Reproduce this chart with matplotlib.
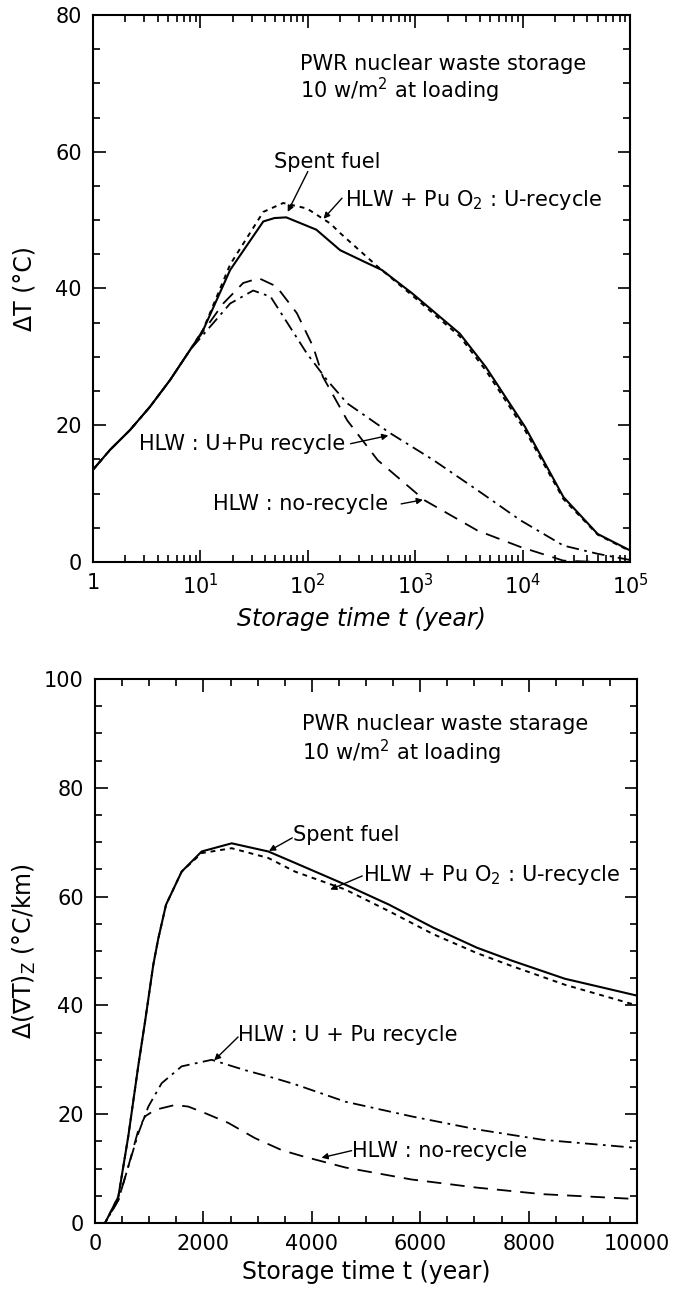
# import required libraries
import numpy as np
import matplotlib.pyplot as plt
from matplotlib.ticker import FixedLocator, NullFormatter, MultipleLocator

plt.rcParams['font.family'] = ['DejaVu Sans']
plt.rcParams['mathtext.default'] = 'regular'

# ---- top panel data : temperature rise vs storage time (log scale) ----
t_spent = [1, 1.44, 2.21, 3.39, 5.21, 8.0, 10.6, 18.9, 38.5, 49, 63, 120, 200, 337, 490, 935, 2600, 4550, 10500, 24000, 50000, 100000]
dT_spent = [13.5, 16.4, 19.3, 22.7, 26.6, 31.0, 33.9, 42.7, 49.8, 50.3, 50.4, 48.6, 45.6, 43.9, 42.7, 39.3, 33.4, 28.5, 19.8, 9.5, 4.1, 1.7]

t_puo2 = [1, 1.44, 2.21, 3.39, 5.21, 8.0, 10.6, 18.9, 38.5, 59, 98, 162, 200, 447, 935, 2600, 4550, 10500, 24000, 50000, 100000]
dT_puo2 = [13.5, 16.4, 19.3, 22.7, 26.6, 31.0, 34.0, 43.5, 51.2, 52.5, 51.7, 49.5, 48.1, 43.2, 39.0, 33.0, 28.0, 19.3, 9.2, 4.0, 1.6]

t_upu = [1, 1.44, 2.21, 3.39, 5.21, 8.0, 18.9, 31, 45, 68, 98, 151, 233, 590, 1480, 3800, 9550, 24000, 50000, 100000]
dT_upu = [13.5, 16.4, 19.3, 22.7, 26.6, 31.0, 37.8, 39.7, 38.8, 34.4, 30.5, 26.6, 23.2, 18.8, 14.9, 10.5, 6.1, 2.4, 1.2, 0.3]

t_norec = [1, 1.44, 2.21, 3.39, 5.21, 8.0, 16.3, 25, 35, 51, 79, 112, 138, 233, 447, 1230, 3800, 9550, 24000, 50000, 100000]
dT_norec = [13.5, 16.4, 19.3, 22.7, 26.6, 31.0, 37.8, 40.8, 41.5, 40.3, 36.4, 31.5, 27.1, 20.7, 14.9, 9.0, 4.6, 2.2, 0.2, 0.0, 0.0]

top_xticks = [1, 10, 100, 1000, 10000, 100000]
top_xlabels = ['1', '$10^1$', '$10^2$', '$10^3$', '$10^4$', '$10^5$']

# ---- bottom panel data : vertical gradient change vs storage time (linear) ----
s_spent = [0, 185, 430, 615, 800, 923, 1076, 1168, 1310, 1599, 1968, 2522, 3198, 3690, 4620, 5430, 6240, 7050, 7700, 8670, 9230, 10000]
g_spent = [0, 0, 4.8, 16, 29, 37, 47.5, 52.3, 58.5, 64.6, 68.3, 69.8, 68.3, 66.2, 62.2, 58.5, 54.3, 50.6, 48.2, 44.9, 43.6, 41.8]

s_puo2 = [0, 185, 430, 615, 800, 923, 1076, 1168, 1310, 1599, 1968, 2522, 3198, 3690, 4620, 5430, 6240, 7050, 7700, 8670, 9230, 10000]
g_puo2 = [0, 0, 4.8, 16, 29, 37, 47.5, 52.3, 58.5, 64.6, 68.0, 68.9, 67.1, 64.6, 61.3, 57.3, 53.1, 49.6, 47.2, 43.8, 42.2, 40.0]

s_upu = [0, 185, 430, 615, 800, 984, 1230, 1599, 2153, 2768, 3321, 3690, 4620, 5840, 7050, 8260, 10000]
g_upu = [0, 0, 4.2, 10.4, 16.5, 21.4, 25.7, 28.8, 30.0, 28.1, 26.6, 25.5, 22.3, 19.6, 17.2, 15.3, 13.8]

s_norec = [0, 185, 430, 615, 800, 923, 1107, 1476, 1722, 2030, 2460, 2952, 3444, 3820, 4620, 5840, 7050, 8260, 10000]
g_norec = [0, 0, 4.2, 10.4, 17.1, 19.6, 20.8, 21.7, 21.4, 20.2, 18.4, 15.6, 13.4, 12.3, 10.2, 8.0, 6.5, 5.3, 4.4]

# line styles for the four cases
sty_spent = '-'
sty_puo2 = (0, (2.5, 2.5))
sty_upu = (0, (7, 3, 1.5, 3))
sty_norec = (0, (8, 5))

fig = plt.figure(figsize=(6.81, 12.89), dpi=100)
ax1 = fig.add_axes([0.1366, 0.564, 0.7885, 0.4244])
ax2 = fig.add_axes([0.1395, 0.0512, 0.7959, 0.4220])

arrow = dict(arrowstyle='-|>', lw=1.0, color='k', mutation_scale=9, shrinkA=0, shrinkB=0)
fs_txt = 15

# ---------------- top plot ----------------
ax1.plot(t_spent, dT_spent, color='k', lw=1.5, linestyle=sty_spent)
ax1.plot(t_puo2, dT_puo2, color='k', lw=1.4, linestyle=sty_puo2)
ax1.plot(t_upu, dT_upu, color='k', lw=1.3, linestyle=sty_upu)
ax1.plot(t_norec, dT_norec, color='k', lw=1.3, linestyle=sty_norec)

ax1.set_xscale('log')
ax1.set_xlim(1, 1e5)
ax1.set_ylim(0, 80)
ax1.set_xticks(top_xticks)
ax1.set_xticklabels(top_xlabels)
ax1.xaxis.set_minor_locator(FixedLocator([m * 10**d for d in range(5) for m in range(2, 10)]))
ax1.xaxis.set_minor_formatter(NullFormatter())
ax1.yaxis.set_major_locator(MultipleLocator(20))
ax1.yaxis.set_minor_locator(MultipleLocator(5))

ax1.text(84, 72.9, 'PWR nuclear waste storage', fontsize=fs_txt, va='center')
ax1.text(84, 69.0, '10 w/m$^2$ at loading', fontsize=fs_txt, va='center')
ax1.text(48, 58.5, 'Spent fuel', fontsize=fs_txt, va='center')
ax1.annotate('', xy=(65, 51.2), xytext=(100, 57.1), arrowprops=arrow)
ax1.text(223, 52.9, 'HLW + Pu O$_2$ : U-recycle', fontsize=fs_txt, va='center')
ax1.annotate('', xy=(140, 50.2), xytext=(208, 53.2), arrowprops=arrow)
ax1.text(2.7, 17.3, 'HLW : U+Pu recycle', fontsize=fs_txt, va='center')
ax1.annotate('', xy=(562, 18.5), xytext=(250, 17.3), arrowprops=arrow)
ax1.text(13, 8.5, 'HLW : no-recycle', fontsize=fs_txt, va='center')
ax1.annotate('', xy=(1180, 9.1), xytext=(740, 8.5), arrowprops=arrow)

ax1.set_xlabel('Storage time t (year)', fontsize=17, style='italic', labelpad=6)
ax1.set_ylabel('ΔT (°C)', fontsize=17)
ax1.yaxis.set_label_coords(-0.105, 0.5)

# ---------------- bottom plot ----------------
ax2.plot(s_spent, g_spent, color='k', lw=1.5, linestyle=sty_spent)
ax2.plot(s_puo2, g_puo2, color='k', lw=1.4, linestyle=sty_puo2)
ax2.plot(s_upu, g_upu, color='k', lw=1.3, linestyle=sty_upu)
ax2.plot(s_norec, g_norec, color='k', lw=1.3, linestyle=sty_norec)

ax2.set_xlim(0, 10000)
ax2.set_ylim(0, 100)
ax2.xaxis.set_major_locator(MultipleLocator(2000))
ax2.xaxis.set_minor_locator(MultipleLocator(500))
ax2.yaxis.set_major_locator(MultipleLocator(20))
ax2.yaxis.set_minor_locator(MultipleLocator(5))

ax2.text(3816, 91.7, 'PWR nuclear waste starage', fontsize=fs_txt, va='center')
ax2.text(3816, 86.5, '10 w/m$^2$ at loading', fontsize=fs_txt, va='center')
ax2.text(3654, 71.3, 'Spent fuel', fontsize=fs_txt, va='center')
ax2.annotate('', xy=(3210, 68.4), xytext=(3640, 70.8), arrowprops=arrow)
ax2.text(4947, 64.0, 'HLW + Pu O$_2$ : U-recycle', fontsize=fs_txt, va='center')
ax2.annotate('', xy=(4341, 61.3), xytext=(4930, 63.8), arrowprops=arrow)
ax2.text(2643, 34.5, 'HLW : U + Pu recycle', fontsize=fs_txt, va='center')
ax2.annotate('', xy=(2199, 29.9), xytext=(2640, 34.2), arrowprops=arrow)
ax2.text(4745, 13.2, 'HLW : no-recycle', fontsize=fs_txt, va='center')
ax2.annotate('', xy=(4179, 12.0), xytext=(4735, 13.3), arrowprops=arrow)

ax2.set_xlabel('Storage time t (year)', fontsize=17, labelpad=4)
ax2.set_ylabel('Δ(∇T)$_Z$ (°C/km)', fontsize=17)
ax2.yaxis.set_label_coords(-0.105, 0.5)

# common frame / tick styling
for ax in (ax1, ax2):
    for sp in ax.spines.values():
        sp.set_linewidth(1.5)
    ax.tick_params(which='both', direction='in', top=True, right=True, labelsize=15, width=1.2)
    ax.tick_params(which='major', length=9, pad=8)
    ax.tick_params(which='minor', length=5)

plt.savefig('out.png', dpi=100)
#plt.show()
